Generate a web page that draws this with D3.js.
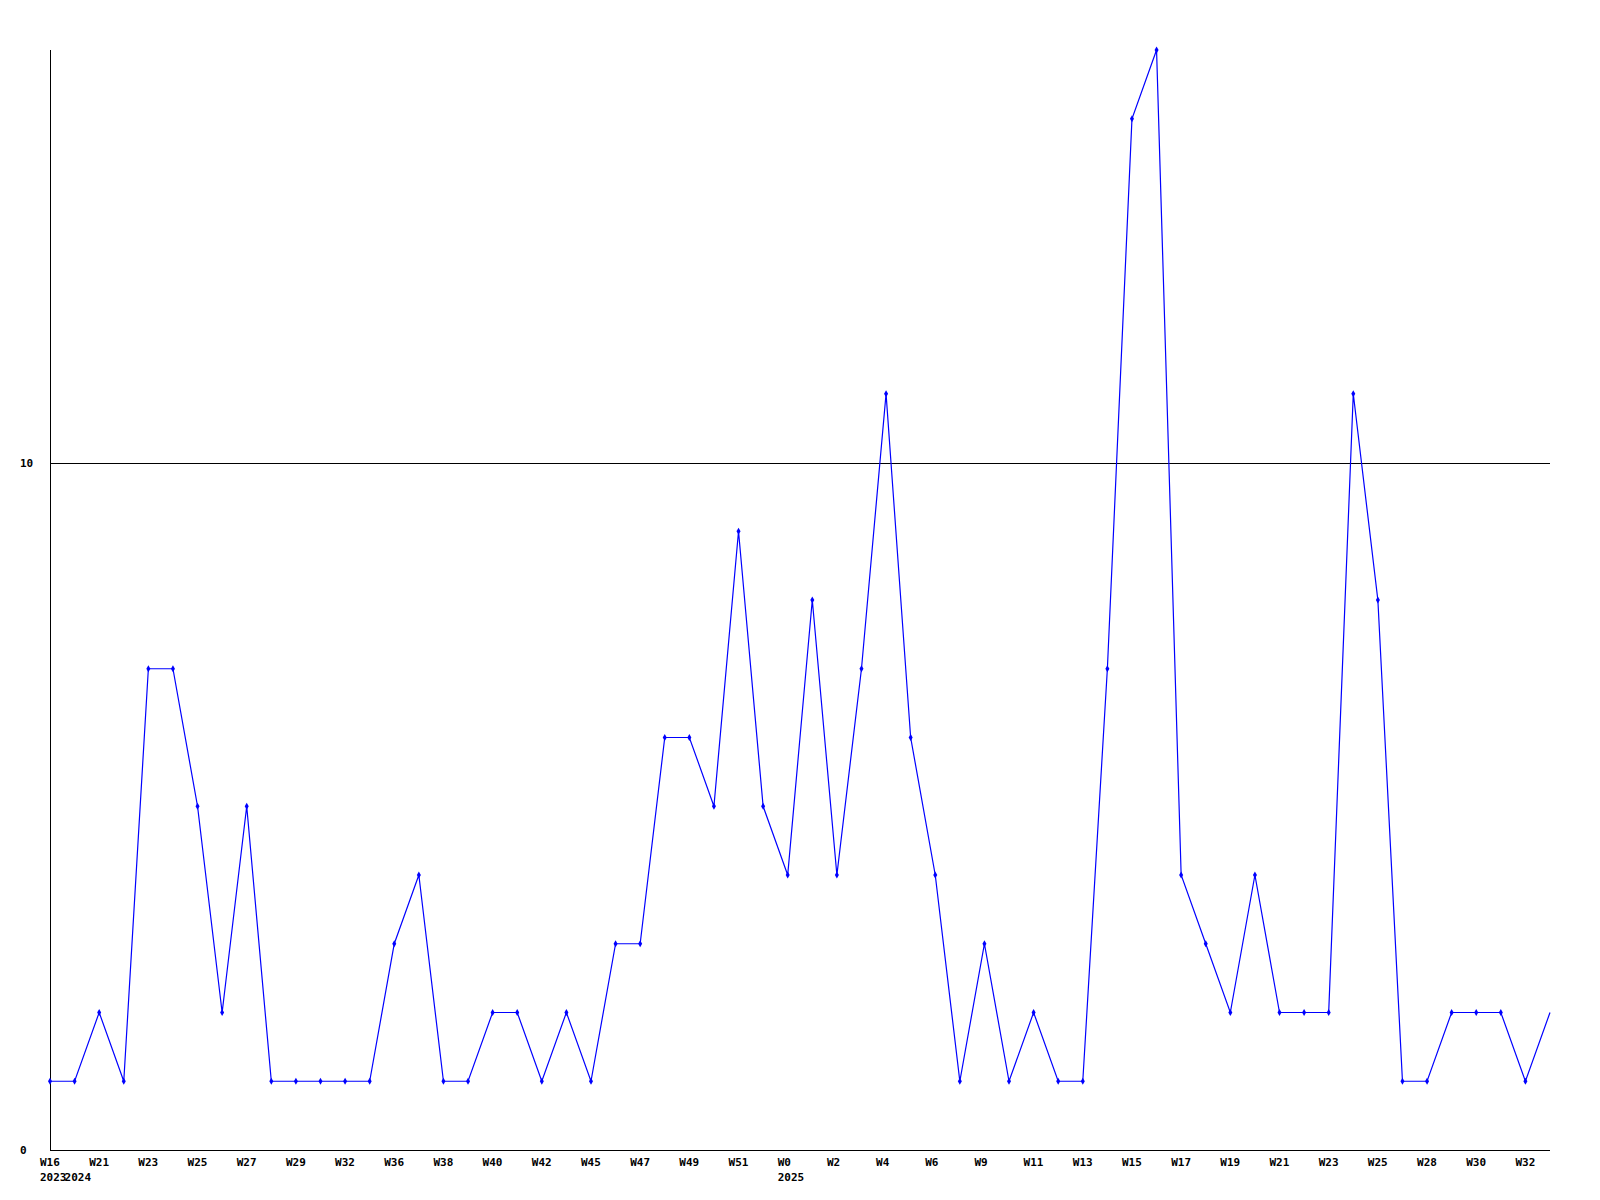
<!DOCTYPE html>
<html>
<head>
<meta charset="utf-8">
<script src="https://cdn.jsdelivr.net/npm/d3@7"></script>
<style>
  html, body { margin: 0; padding: 0; background: #fff; }
  svg { display: block; }
  text { font-family: "DejaVu Sans Mono", "Liberation Mono", monospace; font-weight: bold; font-size: 11px; fill: #000; }
</style>
</head>
<body>
<svg id="chart" width="1600" height="1200"></svg>
<script>
// ---- data ----
const values = [1, 1, 2, 1, 7, 7, 5, 2, 5, 1, 1, 1, 1, 1, 3, 4, 1, 1, 2, 2,
                1, 2, 1, 3, 3, 6, 6, 5, 9, 5, 4, 8, 4, 7, 11, 6, 4, 1, 3, 1,
                2, 1, 1, 7, 15, 16, 4, 3, 2, 4, 2, 2, 2, 11, 8, 1, 1, 2, 2, 2,
                1, 2];
const weekLabels = ["W16", "W21", "W23", "W25", "W27", "W29", "W32", "W36", "W38", "W40",
                    "W42", "W45", "W47", "W49", "W51", "W0", "W2", "W4", "W6", "W9",
                    "W11", "W13", "W15", "W17", "W19", "W21", "W23", "W25", "W28", "W30", "W32"];
const weekLabelIndex = weekLabels.map((d, i) => i * 2);
const yearLabels = ["2023", "2024", "2025"];
const yearLabelIndex = [0, 1, 30];
const yTicks = [0, 10];

// ---- layout ----
const svg = d3.select("#chart");
const mLeft = 50, mRight = 1550, mTop = 50, mBottom = 1150;

const x = d3.scaleLinear().domain([0, values.length - 1]).range([mLeft, mRight]);
const y = d3.scaleLinear().domain([0, 16]).range([mBottom, mTop]);

// horizontal reference line at 10 and axes
svg.selectAll("line.grid").data(yTicks.filter(d => d !== 0)).join("line")
  .attr("class", "grid")
  .attr("x1", mLeft).attr("x2", mRight)
  .attr("y1", d => Math.round(y(d)) + 0.5).attr("y2", d => Math.round(y(d)) + 0.5)
  .attr("stroke", "#000").attr("stroke-width", 1);

svg.append("line")
  .attr("x1", mLeft + 0.5).attr("x2", mLeft + 0.5)
  .attr("y1", mTop).attr("y2", mBottom)
  .attr("stroke", "#000");
svg.append("line")
  .attr("x1", mLeft).attr("x2", mRight)
  .attr("y1", mBottom + 0.5).attr("y2", mBottom + 0.5)
  .attr("stroke", "#000");

// y labels
svg.selectAll("text.ylab").data(yTicks).join("text")
  .attr("class", "ylab")
  .attr("x", 20)
  .attr("y", d => y(d) + 4)
  .text(d => d);

// x labels
svg.selectAll("text.wlab").data(weekLabels).join("text")
  .attr("class", "wlab")
  .attr("x", (d, i) => x(weekLabelIndex[i]) - 10)
  .attr("y", 1166)
  .text(d => d);

svg.selectAll("text.yrlab").data(yearLabels).join("text")
  .attr("class", "yrlab")
  .attr("x", (d, i) => x(yearLabelIndex[i]) - 10)
  .attr("y", 1181)
  .text(d => d);

// line
const line = d3.line().x((d, i) => x(i)).y(d => y(d));
svg.append("path")
  .datum(values)
  .attr("d", line)
  .attr("fill", "none")
  .attr("stroke", "#0000ff")
  .attr("stroke-width", 1.2);

// markers (all but last)
svg.selectAll("path.mark").data(values.slice(0, values.length - 1)).join("path")
  .attr("class", "mark")
  .attr("d", d3.symbol().type(d3.symbolDiamond).size(14))
  .attr("transform", (d, i) => `translate(${x(i)},${y(d)})`)
  .attr("fill", "#0000ff");
</script>
</body>
</html>
